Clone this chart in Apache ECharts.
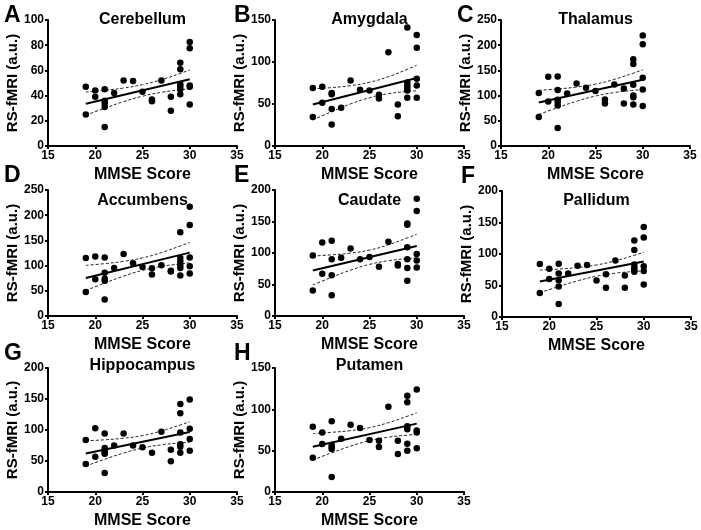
<!DOCTYPE html>
<html>
<head>
<meta charset="utf-8">
<script src="https://cdn.jsdelivr.net/npm/echarts@6/dist/echarts.min.js"></script>
<style>
html,body{margin:0;padding:0;background:#fff;}
#chart{width:701px;height:530px;}
</style>
</head>
<body>
<div id="chart"></div>
<script>
// ---------- data ----------
const panelTitles = ['Cerebellum','Amygdala','Thalamus','Accumbens','Caudate','Pallidum','Hippocampus','Putamen'];
const panelLetters = ['A','B','C','D','E','F','G','H'];
const yMax = [100,150,250,250,200,200,200,150];
const yInterval = [20,50,50,50,50,50,50,50];
const xTicks = [15,20,25,30,35];

const cerebellum = [[19,47],[19,25],[20,44],[20,39],[21,45],[21,36],[21,34],[21,31],[21,15],[22,42],[23,52],[24,51.5],[25,43],[26,37],[26,35.5],[27,52],[28,39],[28,28],[29,66],[29,61],[29,49],[29,47],[29,45],[29,41],[30,82.5],[30,77.5],[30,48],[30,47],[30,33]];
const amygdala = [[19,69],[19,34.5],[20,70.5],[20,51.5],[21,63],[21,61.5],[21,44],[21,25.5],[22,45.5],[23,78],[24,67],[25,66],[26,61],[26,56.5],[27,111.5],[28,49.5],[28,35.5],[29,141],[29,75.5],[29,72],[29,69],[29,66],[29,57.5],[30,132],[30,117],[30,80],[30,72],[30,57.5]];
const thalamus = [[19,105],[19,57.5],[20,137.5],[20,88.5],[21,138],[21,111],[21,92],[21,88],[21,80.5],[21,35.5],[22,104],[23,124],[24,115.5],[25,109],[26,92.5],[26,84.5],[27,122],[28,114],[28,84.5],[29,172],[29,162.5],[29,121.5],[29,100],[29,96.5],[29,82.5],[30,219],[30,202],[30,135.5],[30,112],[30,79.5]];
const accumbens = [[19,115],[19,47.5],[20,118],[20,73],[21,116],[21,86],[21,74],[21,70],[21,32.5],[22,95],[23,123],[24,104.5],[25,97],[26,94.5],[26,82.5],[27,100.5],[28,90],[28,88.5],[29,166],[29,115],[29,108],[29,101],[29,95],[29,80.5],[30,217],[30,180.5],[30,116],[30,98.5],[30,84.5]];
const caudate = [[19,96],[19,40.5],[20,116.5],[20,67],[21,119.5],[21,90],[21,64.5],[21,33],[22,92.5],[23,107],[24,90],[25,93.5],[26,78],[27,118],[28,82.5],[28,80],[29,147],[29,145],[29,109],[29,90],[29,76],[29,56],[30,186],[30,166.5],[30,98.5],[30,88],[30,77]];
const pallidum = [[19,84],[19,38],[20,76.5],[20,60.5],[21,84.5],[21,69],[21,58.5],[21,48.5],[21,20.5],[22,69],[23,81.5],[24,82.5],[25,58],[26,68],[26,46.5],[27,89.5],[28,66],[28,46.5],[29,121.5],[29,106.5],[29,83.5],[29,78.5],[29,75],[29,72],[30,143],[30,126],[30,80.5],[30,73],[30,51.5]];
const hippocampus = [[19,84],[19,45],[20,103],[20,57],[21,94.5],[21,71],[21,66.5],[21,63.5],[21,61.5],[21,30.5],[22,75],[23,94.5],[24,75],[25,72],[26,63.5],[27,97],[28,68],[28,49.5],[29,142],[29,127],[29,96],[29,77],[29,73],[29,63.5],[30,149],[30,102],[30,85.5],[30,66.5]];
const putamen = [[19,79],[19,41.5],[20,72],[20,58],[21,85.5],[21,57],[21,54],[21,52],[21,18],[22,64.5],[23,81.5],[24,77.5],[25,63],[26,62],[26,54.5],[27,103],[28,62],[28,46],[29,116.5],[29,108.5],[29,79.5],[29,76],[29,58.5],[29,50],[30,124],[30,74.5],[30,72],[30,53]];

// regression line end points (x = 19 and x = 30)
const fitX = [19,30];
const fitY = [[33.6,52.9],[49.5,81],[86.5,131.5],[75.5,125.8],[72.2,111],[56.5,88],[62.2,96.7],[54.7,82.7]];

// 95% confidence band read at these x positions
const bandX = [19,21,23,25,27,29,30];
const bandUpper = [
  [42.8,44.2,46.0,48.7,52.6,57.6,60.4],
  [68.0,69.5,71.9,75.9,82.5,91.3,96.1],
  [110.5,113.2,117.0,122.9,132.3,144.5,151.1],
  [100.5,103.9,108.5,115.3,125.8,139.0,146.2],
  [95.2,97.1,99.8,104.7,113.0,123.9,129.7],
  [74.5,76.1,78.6,82.6,89.2,97.9,102.7],
  [82.6,84.2,86.8,91.1,98.5,108.1,113.3],
  [70.7,72.2,74.3,77.9,83.9,91.6,95.7]
];
const bandLower = [
  [24.4,30.0,35.2,39.5,42.6,44.6,45.4],
  [31.0,40.9,50.1,57.5,62.3,64.9,65.9],
  [62.5,76.2,88.8,99.1,106.1,110.3,111.9],
  [50.5,65.3,79.1,90.5,98.4,103.4,105.4],
  [49.2,61.5,72.8,81.9,87.8,91.1,92.3],
  [38.5,48.3,57.4,64.8,69.6,72.3,73.3],
  [41.8,52.8,62.8,70.9,76.1,79.1,80.1],
  [38.7,47.4,55.5,62.1,66.3,68.8,69.7]
];
const points = [cerebellum, amygdala, thalamus, accumbens, caudate, pallidum, hippocampus, putamen];

// ---------- layout ----------
const FONT = '"Liberation Sans", Arial, sans-serif';
const gridPos = [
  [48,20],[275,20],[501,20],
  [48,190],[275,190],[502,191],
  [48,368],[275,368]
];
const GW = 189, GH = 126;
const titleCenterY = [20.5,20.5,20.5,201.5,201.5,202,367,367];
const letterPos = [[4,4],[234,4],[457,4],[4,164],[234,164],[461,165],[4,342],[234,342]];

const grids = [], xAxes = [], yAxes = [], series = [], titles = [], graphics = [];

for (let i = 0; i < 8; i++) {
  const [gl, gt] = gridPos[i];
  grids.push({left: gl, top: gt, width: GW, height: GH, containLabel: false});
  xAxes.push({
    gridIndex: i, type: 'value', min: xTicks[0], max: xTicks[xTicks.length-1], interval: 5,
    name: 'MMSE Score', nameLocation: 'middle', nameGap: 21,
    nameTextStyle: {fontFamily: FONT, fontWeight: 'bold', fontSize: 16, color: '#000'},
    axisLine: {show: true, onZero: false, lineStyle: {color: '#000', width: 2}},
    axisTick: {show: true, inside: false, length: 3, lineStyle: {color: '#000', width: 2}},
    axisLabel: {fontFamily: FONT, fontWeight: 'bold', fontSize: 12, color: '#000', margin: 4},
    splitLine: {show: false}
  });
  yAxes.push({
    gridIndex: i, type: 'value', min: 0, max: yMax[i], interval: yInterval[i],
    name: 'RS-fMRI (a.u.)', nameLocation: 'middle', nameGap: 23,
    nameTextStyle: {fontFamily: FONT, fontWeight: 'bold', fontSize: 15, color: '#000'},
    axisLine: {show: true, onZero: false, lineStyle: {color: '#000', width: 2}},
    axisTick: {show: true, inside: false, length: 3, lineStyle: {color: '#000', width: 2}},
    axisLabel: {fontFamily: FONT, fontWeight: 'bold', fontSize: 12, color: '#000', margin: 4},
    splitLine: {show: false}
  });
  titles.push({
    text: panelTitles[i], left: gl + GW/2, top: titleCenterY[i] - 9, textAlign: 'center', padding: 0,
    textStyle: {fontFamily: FONT, fontWeight: 'bold', fontSize: 16, color: '#000'}
  });
  graphics.push({
    type: 'text', left: letterPos[i][0], top: letterPos[i][1],
    style: {text: panelLetters[i], fontFamily: FONT, fontWeight: 'bold', fontSize: 23, fill: '#000'}
  });
  series.push({
    type: 'line', xAxisIndex: i, yAxisIndex: i, symbol: 'none', smooth: true,
    data: bandX.map((x, k) => [x, bandUpper[i][k]]),
    lineStyle: {color: '#222', width: 1, type: [3,2]}, z: 2, silent: true
  });
  series.push({
    type: 'line', xAxisIndex: i, yAxisIndex: i, symbol: 'none', smooth: true,
    data: bandX.map((x, k) => [x, bandLower[i][k]]),
    lineStyle: {color: '#222', width: 1, type: [3,2]}, z: 2, silent: true
  });
  series.push({
    type: 'line', xAxisIndex: i, yAxisIndex: i, symbol: 'none',
    data: fitX.map((x, k) => [x, fitY[i][k]]),
    lineStyle: {color: '#000', width: 2}, z: 3, silent: true
  });
  series.push({
    type: 'scatter', xAxisIndex: i, yAxisIndex: i, symbol: 'circle', symbolSize: 6.5,
    data: points[i], itemStyle: {color: '#000', opacity: 1}, z: 4, silent: true
  });
}

const chart = echarts.init(document.getElementById('chart'), null, {renderer: 'canvas'});
chart.setOption({
  backgroundColor: '#fff',
  animation: false,
  title: titles,
  grid: grids,
  xAxis: xAxes,
  yAxis: yAxes,
  series: series,
  graphic: graphics
});
</script>
</body>
</html>
